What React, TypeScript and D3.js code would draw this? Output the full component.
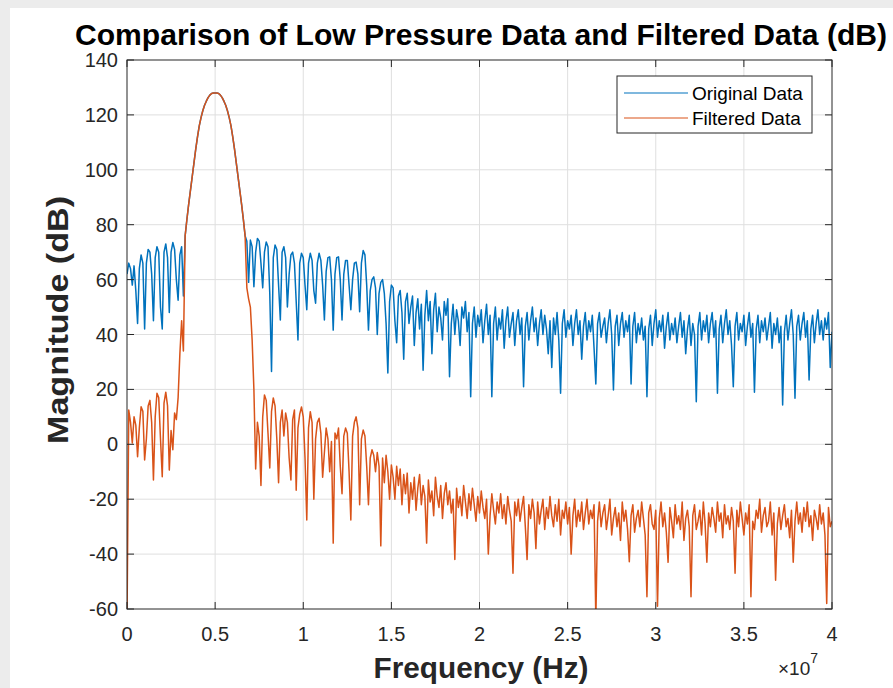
import React from 'react';
import * as d3 from 'd3';

// frequency grid step, in units of 1e7 Hz
const STEP = 0.01;
const xTicks = [0, 0.5, 1, 1.5, 2, 2.5, 3, 3.5, 4];
const xTickLabels = ['0', '0.5', '1', '1.5', '2', '2.5', '3', '3.5', '4'];
const yTicks = [-60, -40, -20, 0, 20, 40, 60, 80, 100, 120, 140];
const seriesNames = ['Original Data', 'Filtered Data'];

// 0.00 – 0.32
const blueLow = [62, 66, 64, 58, 65, 56, 44, 64, 69, 66, 42, 66, 71, 70, 62, 45, 68, 72, 70, 50, 42, 70, 73, 68, 48, 70, 73.5, 71, 60, 52.5, 69, 72, 54];
const orangeLow = [-65, 12.5, 8, 0.5, 10, 7, -4.5, 6, 13.7, 12, -5.7, 2, 14, 16, 8, -13, 10, 18.6, 17, 2, -11.8, 15, 19, 14, -9.4, 5, -2, 11.4, 9, 17, 33, 45, 34];

// 0.33 – 0.67 (shared main lobe)
const mainLobe = [76, 82, 87.5, 92.5, 97.5, 102.5, 107.5, 112, 116, 119, 121.5, 123.5, 125, 126.3, 127.2, 127.8, 128, 128, 128, 127.8, 127.2, 126.3, 125, 123.5, 121.5, 119, 116, 112, 107.5, 102.5, 97.5, 92.5, 87.5, 82, 76];

// 0.68 – 1.40
const blueMid = [
  74, 59, 74.4, 72, 57.4, 70, 75, 74, 66, 57,
  70, 73.7, 72, 55, 26.5, 68, 72.6, 71, 58, 45.3,
  70, 72, 68, 50, 62, 69, 70, 66, 52, 38,
  66, 69.6, 68, 58, 49, 66, 69.6, 67, 56, 51.4,
  66, 69.6, 67, 58, 45.3, 63, 68, 68.3, 60, 41.6,
  62, 68, 68.3, 60, 45.3, 62, 67, 67, 58, 49,
  60, 66, 66.4, 62, 48.3, 66, 70.6, 69, 58, 41.6,
  56, 60, 61,
];
const orangeMid = [
  57, 53, 50, 38, 20, -9, 8, 3, -15, 10,
  18, 16, 4, -8.6, 12, 16.9, 14, 2, -14, 8,
  12.5, 3, 11.4, 8, -5, -13, 9, 12.5, -16.7, 6,
  11, 13.6, 10, -5, -27.6, 6, 11.9, 8, -20, 2,
  8, 9.5, 4, -12, -3, 5.9, 2, -10, 1, -36,
  4.1, 2, 5.9, -8, -18, 3, 5.9, 4, -10, -27.6,
  3, 8, 10, 6, -22, 2, 5.2, 3, -8, -22,
  -5, -2, -4,
];

// 1.41 – 4.00
const blueHigh = [
  57, 40, 55, 59, 60, 55, 44, 26, 52, 58,
  57, 45, 37, 54, 56, 48, 31, 52, 55, 44,
  50, 54, 36, 48, 53, 42, 51, 27, 47, 56,
  45, 52, 33, 49, 55, 41, 50, 46, 38, 52,
  47, 53, 24.6, 44, 51, 40, 49, 45, 36, 50,
  46, 52, 41, 48, 17.3, 44, 50, 39, 47, 43,
  49, 37, 45, 51, 40, 47, 17.3, 44, 50, 38,
  46, 42, 49, 35, 45, 50, 39, 44, 48, 36,
  45, 49, 40, 46, 21, 43, 48, 38, 45, 50,
  41, 46, 36, 44, 49, 40, 47, 42, 33, 45,
  28, 46, 40, 48, 38, 18.6, 44, 49, 39, 45,
  42, 47, 36, 44, 49, 40, 45, 31, 43, 48,
  38, 45, 41, 47, 35, 22, 44, 48, 39, 43,
  46, 37, 44, 49, 40, 19.8, 43, 47, 36, 44,
  48, 39, 45, 41, 47, 22, 43, 48, 37, 44,
  40, 46, 38, 43, 17.3, 42, 47, 36, 44, 49,
  39, 45, 41, 47, 35, 43, 48, 38, 44, 40,
  46, 37, 43, 48, 39, 45, 33, 42, 47, 36,
  44, 40, 15.5, 43, 48, 38, 45, 41, 47, 37,
  44, 48, 39, 45, 18.6, 42, 47, 37, 44, 49,
  40, 45, 36, 21, 43, 48, 38, 44, 41, 47,
  36, 43, 48, 39, 44, 19, 42, 47, 37, 45,
  41, 46, 38, 43, 48, 35, 44, 40, 46, 37,
  43, 14.3, 41, 47, 38, 44, 49, 40, 16.8, 43,
  47, 38, 44, 48, 39, 45, 23.4, 42, 47, 37,
  44, 49, 40, 45, 38, 46, 42, 48, 28, 41,
];
const orangeHigh = [
  -10, -3, -8, -37, -5, -14, -4, -10, -20, -7.5,
  -12, -20, -8, -15, -9, -22, -11, -18, -10.5, -25,
  -14, -20, -12, -24, -16, -11, -22, -15, -19, -36,
  -13, -21, -17, -26, -12, -19, -23, -15, -27, -18,
  -14, -22, -17, -25, -20, -42, -16, -23, -19, -26,
  -15, -21, -27, -18, -24, -16, -22, -28, -19, -25,
  -17, -23, -27, -20, -40, -26, -18, -24, -29, -21,
  -25, -18, -27, -22, -29, -19, -24, -28, -47, -21,
  -26, -20, -28, -23, -19, -30, -42, -22, -27, -20,
  -25, -38, -21, -29, -24, -20, -31, -23, -27, -19,
  -26, -30, -22, -28, -20, -33, -24, -27, -21, -29,
  -23, -40, -26, -20, -30, -24, -28, -21, -31, -25,
  -20, -29, -24, -27, -22, -64, -28, -21, -30, -25,
  -22, -31, -26, -20, -33, -27, -23, -30, -25, -35,
  -21, -28, -24, -31, -42.8, -26, -22, -32, -27, -24,
  -30, -21, -27, -33, -55.5, -25, -22, -29, -31, -24,
  -59, -27, -21, -30, -25, -32, -43, -23, -28, -34,
  -22, -29, -26, -31, -21, -35, -27, -24, -30, -55.5,
  -26, -22, -31, -28, -24, -33, -21, -29, -43, -25,
  -30, -23, -27, -32, -21, -28, -25, -34, -22, -29,
  -26, -31, -23, -28, -47, -24, -30, -21, -27, -33,
  -25, -29, -22, -55.5, -28, -31, -24, -27, -20, -32,
  -26, -23, -30, -28, -21, -33, -25, -49.5, -29, -23,
  -31, -26, -22, -30, -27, -34, -24, -43, -28, -21,
  -29, -25, -32, -23, -28, -21, -30, -26, -35, -24,
  -27, -31, -22, -29, -25, -33, -58, -23, -30, -28,
];

const originalData = [...blueLow, ...mainLobe, ...blueMid, ...blueHigh];
const filteredData = [...orangeLow, ...mainLobe, ...orangeMid, ...orangeHigh];

const W = 893;
const H = 688;
const L = 127, R = 832, T = 60, B = 609;
const BLUE = '#0072BD';
const ORANGE = '#D95319';
const AXIS = '#262626';
const GRID = '#dfdfdf';
const FONT = '"Liberation Sans", Arial, Helvetica, sans-serif';

export default function App() {
  const x = d3.scaleLinear().domain([0, 4e7]).range([L, R]);
  const y = d3.scaleLinear().domain([-60, 140]).range([B, T]);
  const line = d3
    .line<number>()
    .x((_, i) => x(i * STEP * 1e7))
    .y((v) => y(v));
  const tick = 7;

  return (
    <svg width={W} height={H} style={{ position: 'absolute', left: 0, top: 0 }} fontFamily={FONT}>
      <rect x={0} y={0} width={W} height={H} fill="#ececec" />
      <rect x={10} y={8} width={W - 10} height={H - 8} fill="#ffffff" />
      <defs>
        <clipPath id="plotClip">
          <rect x={L} y={T} width={R - L} height={B - T} />
        </clipPath>
      </defs>
      {/* grid */}
      {xTicks.slice(1, -1).map((t) => (
        <line key={'gx' + t} x1={x(t * 1e7)} x2={x(t * 1e7)} y1={T} y2={B} stroke={GRID} strokeWidth={1} />
      ))}
      {yTicks.slice(1, -1).map((t) => (
        <line key={'gy' + t} x1={L} x2={R} y1={y(t)} y2={y(t)} stroke={GRID} strokeWidth={1} />
      ))}
      {/* data */}
      <g clipPath="url(#plotClip)">
        <path d={line(originalData) || ''} fill="none" stroke={BLUE} strokeWidth={1.5} strokeLinejoin="round" />
        <path d={line(filteredData) || ''} fill="none" stroke={ORANGE} strokeWidth={1.5} strokeLinejoin="round" />
      </g>
      {/* box */}
      <rect x={L} y={T} width={R - L} height={B - T} fill="none" stroke={AXIS} strokeWidth={1} />
      {/* ticks */}
      {xTicks.map((t) => (
        <g key={'tx' + t}>
          <line x1={x(t * 1e7)} x2={x(t * 1e7)} y1={B} y2={B - tick} stroke={AXIS} />
          <line x1={x(t * 1e7)} x2={x(t * 1e7)} y1={T} y2={T + tick} stroke={AXIS} />
        </g>
      ))}
      {yTicks.map((t) => (
        <g key={'ty' + t}>
          <line x1={L} x2={L + tick} y1={y(t)} y2={y(t)} stroke={AXIS} />
          <line x1={R} x2={R - tick} y1={y(t)} y2={y(t)} stroke={AXIS} />
        </g>
      ))}
      {/* tick labels */}
      {xTicks.map((t, i) => (
        <text key={'lx' + t} x={x(t * 1e7)} y={641} textAnchor="middle" fontSize={20} fill={AXIS}>
          {xTickLabels[i]}
        </text>
      ))}
      {yTicks.map((t) => (
        <text key={'ly' + t} x={118} y={y(t) + 7} textAnchor="end" fontSize={20} fill={AXIS}>
          {t}
        </text>
      ))}
      {/* exponent */}
      <text x={778} y={675} fontSize={19} fill={AXIS}>
        ×10
        <tspan dy={-12} fontSize={14}>7</tspan>
      </text>
      {/* title & labels */}
      <text x={481} y={45} textAnchor="middle" fontSize={29} fontWeight="bold" fill="#000" textLength={812} lengthAdjust="spacingAndGlyphs">
        Comparison of Low Pressure Data and Filtered Data (dB)
      </text>
      <text x={481} y={678} textAnchor="middle" fontSize={29} fontWeight="bold" fill={AXIS} textLength={215} lengthAdjust="spacingAndGlyphs">
        Frequency (Hz)
      </text>
      <text transform="translate(68,320) rotate(-90)" textAnchor="middle" fontSize={29} fontWeight="bold" fill={AXIS} textLength={248} lengthAdjust="spacingAndGlyphs">
        Magnitude (dB)
      </text>
      {/* legend */}
      <rect x={617} y={76} width={195} height={57} fill="#fff" stroke={AXIS} strokeWidth={1} />
      {seriesNames.map((n, i) => (
        <g key={n}>
          <line x1={624} x2={688} y1={93 + i * 25} y2={93 + i * 25} stroke={i === 0 ? BLUE : ORANGE} strokeWidth={1.2} />
          <text x={692} y={93 + i * 25 + 7} fontSize={19} fill="#000">
            {n}
          </text>
        </g>
      ))}
    </svg>
  );
}
